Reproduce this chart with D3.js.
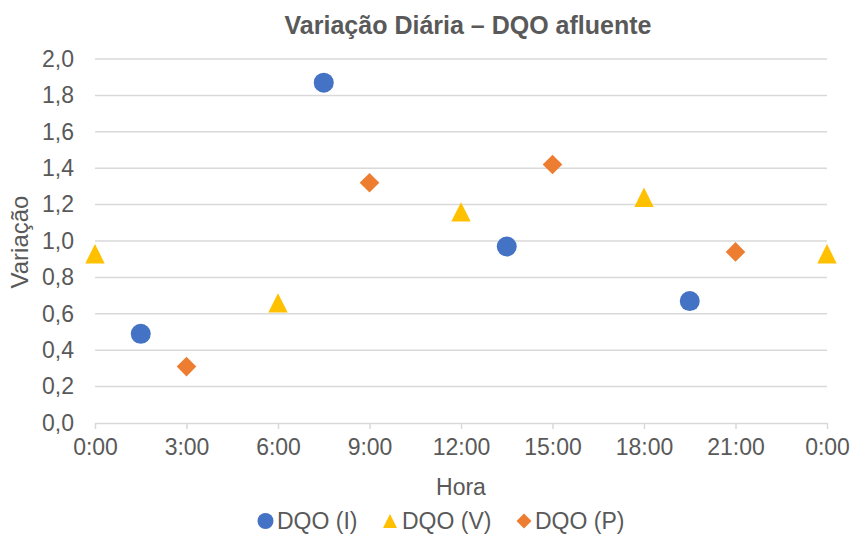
<!DOCTYPE html>
<html>
<head>
<meta charset="utf-8">
<script src="https://cdn.jsdelivr.net/npm/d3@7"></script>
<style>
  html, body { margin: 0; padding: 0; background: #fff; }
  svg { display: block; font-family: "Liberation Sans", Arial, sans-serif; }
</style>
</head>
<body>
<svg id="chart" width="853" height="534"></svg>
<script>
// Hours of the day (0–24) and daily variation factor for each campaign
const hoursI = [1.5, 7.5, 13.5, 19.5];
const valuesI = [0.49, 1.87, 0.97, 0.67];
const hoursV = [0, 6, 12, 18, 24];
const valuesV = [0.93, 0.66, 1.16, 1.24, 0.93];
const hoursP = [3, 9, 15, 21];
const valuesP = [0.31, 1.32, 1.42, 0.94];

const xTicks = [0, 3, 6, 9, 12, 15, 18, 21, 24];
const xTickLabels = ["0:00", "3:00", "6:00", "9:00", "12:00", "15:00", "18:00", "21:00", "0:00"];
const yTicks = [0, 0.2, 0.4, 0.6, 0.8, 1.0, 1.2, 1.4, 1.6, 1.8, 2.0];

const seriesNames = ["DQO (I)", "DQO (V)", "DQO (P)"];
const seriesColors = ["#4472C4", "#FFC000", "#ED7D31"];

const textColor = "#595959";
const gridColor = "#d9d9d9";
const fs = 23;

const svg = d3.select("#chart");
const x = d3.scaleLinear().domain([0, 24]).range([95, 827]);
const y = d3.scaleLinear().domain([0, 2]).range([423, 59]);

// Horizontal gridlines
svg.append("g").selectAll("line")
  .data(yTicks.filter(d => d > 0))
  .join("line")
  .attr("x1", x(0)).attr("x2", x(24))
  .attr("y1", d => y(d)).attr("y2", d => y(d))
  .attr("stroke", gridColor).attr("stroke-width", 1.5);

// Y axis labels (decimal comma)
const yAxis = d3.axisLeft(y).tickValues(yTicks)
  .tickFormat(d => d3.format(".1f")(d).replace(".", ","))
  .tickSize(0).tickPadding(21);
const gy = svg.append("g").attr("transform", `translate(${x(0)},0)`).call(yAxis);
gy.select(".domain").remove();
gy.selectAll("text").attr("font-size", fs).attr("fill", textColor)
  .attr("font-family", "Liberation Sans, Arial, sans-serif");

// X axis with downward tick marks
const xAxis = d3.axisBottom(x).tickValues(xTicks)
  .tickFormat((d, i) => xTickLabels[i])
  .tickSizeInner(6).tickSizeOuter(0).tickPadding(10);
const gx = svg.append("g").attr("transform", `translate(0,${y(0)})`).call(xAxis);
gx.select(".domain").attr("stroke", gridColor).attr("stroke-width", 1.5);
gx.selectAll(".tick line").attr("stroke", gridColor).attr("stroke-width", 1.5);
gx.selectAll("text").attr("font-size", fs).attr("fill", textColor)
  .attr("font-family", "Liberation Sans, Arial, sans-serif");

// Marker shapes, centred on their bounding box
function markerPath(kind, r) {
  if (kind === "circle") return `M${r},0A${r},${r} 0 1,1 ${-r},0A${r},${r} 0 1,1 ${r},0Z`;
  if (kind === "triangle") return `M0,${-r}L${r},${r}L${-r},${r}Z`;
  return `M0,${-r}L${r},0L0,${r}L${-r},0Z`;
}

const series = [
  { hours: hoursI, values: valuesI, kind: "circle", r: 10 },
  { hours: hoursV, values: valuesV, kind: "triangle", r: 9.7 },
  { hours: hoursP, values: valuesP, kind: "diamond", r: 9.8 }
];

series.forEach((s, si) => {
  svg.append("g").selectAll("path")
    .data(s.hours.map((h, i) => [h, s.values[i]]))
    .join("path")
    .attr("transform", d => `translate(${x(d[0])},${y(d[1])})`)
    .attr("d", markerPath(s.kind, s.r))
    .attr("fill", seriesColors[si]);
});

// Title
svg.append("text")
  .attr("x", 468).attr("y", 34)
  .attr("text-anchor", "middle")
  .attr("font-size", 25).attr("font-weight", "bold")
  .attr("fill", textColor)
  .text("Variação Diária – DQO afluente");

// Axis titles
svg.append("text")
  .attr("x", x(12)).attr("y", 495)
  .attr("text-anchor", "middle")
  .attr("font-size", fs).attr("fill", textColor)
  .text("Hora");

svg.append("text")
  .attr("transform", "translate(28,242) rotate(-90)")
  .attr("text-anchor", "middle")
  .attr("font-size", 24).attr("fill", textColor)
  .text("Variação");

// Legend
const legendItems = [
  { kind: "circle", r: 8, mx: 265.5, tx: 277 },
  { kind: "triangle", r: 7, mx: 390, tx: 402 },
  { kind: "diamond", r: 7.5, mx: 524, tx: 535 }
];
const lg = svg.append("g");
legendItems.forEach((it, i) => {
  lg.append("path")
    .attr("transform", `translate(${it.mx},521)`)
    .attr("d", markerPath(it.kind, it.r))
    .attr("fill", seriesColors[i]);
  lg.append("text")
    .attr("x", it.tx).attr("y", 529)
    .attr("font-size", fs).attr("fill", textColor)
    .text(seriesNames[i]);
});
</script>
</body>
</html>
